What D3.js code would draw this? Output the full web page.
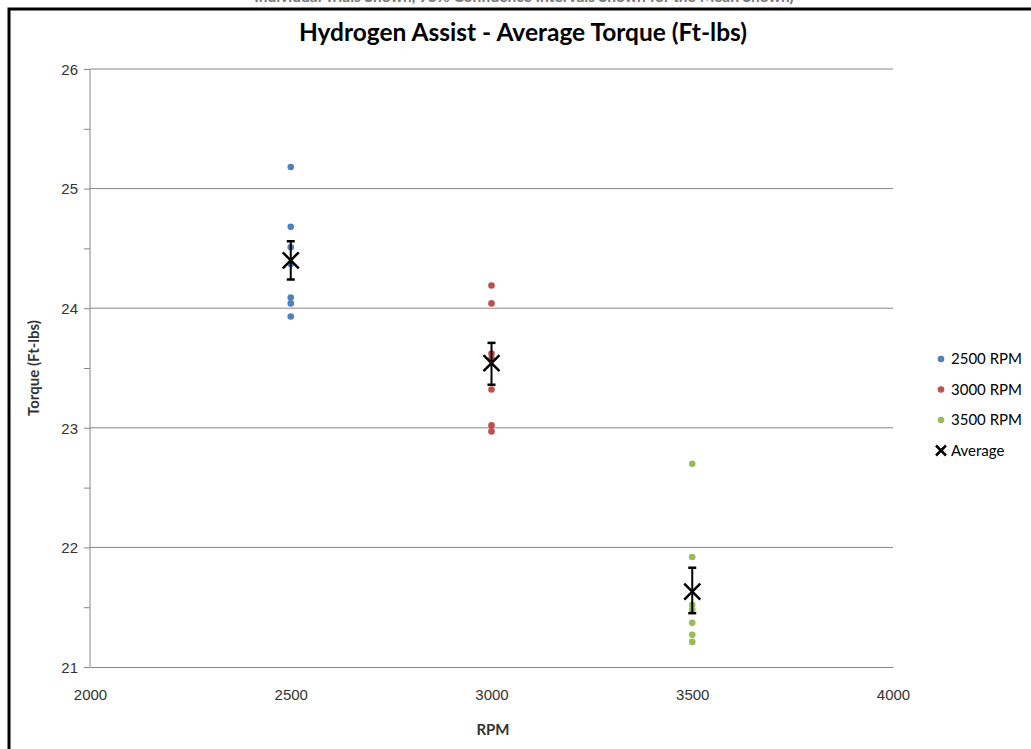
<!DOCTYPE html>
<html>
<head>
<meta charset="utf-8">
<script src="https://cdn.jsdelivr.net/npm/d3@7"></script>
<style>
  body { margin: 0; background: #fff; }
  svg { display: block; font-family: Lato, "Open Sans", sans-serif; }
</style>
</head>
<body>
<svg id="chart" width="1031" height="749"></svg>
<script>
// values
const rpmGroups = ["2500 RPM", "3000 RPM", "3500 RPM"];
const rpmValues = [2500, 3000, 3500];
const torque2500 = [25.18, 24.68, 24.51, 24.37, 24.09, 24.04, 23.93];
const torque3000 = [24.19, 24.04, 23.62, 23.58, 23.32, 23.02, 22.97];
const torque3500 = [22.70, 21.92, 21.52, 21.48, 21.37, 21.27, 21.21];
const avgTorque = [24.40, 23.54, 21.63];
const ciLow = [24.24, 23.36, 21.45];
const ciHigh = [24.56, 23.71, 21.83];
const xTicks = [2000, 2500, 3000, 3500, 4000];
const yTicks = [21, 22, 23, 24, 25, 26];
const colors = ["#4f81bd", "#c0504d", "#9bbb59"];

const svg = d3.select("#chart");
const allTorque = [torque2500, torque3000, torque3500];

const x = d3.scaleLinear().domain([2000, 4000]).range([90, 893]);
const y = d3.scaleLinear().domain([21, 26]).range([667, 69]);

// outer frame (cut off on right/bottom)
svg.append("path")
  .attr("d", "M9,749 L9,9 L1031,9")
  .attr("fill", "none")
  .attr("stroke", "#000")
  .attr("stroke-width", 3);

// heading above the frame, only its lower edge is in view
svg.append("text")
  .attr("x", 524).attr("y", 2)
  .attr("text-anchor", "middle")
  .style("font-size", "15.5px")
  .style("font-weight", "bold")
  .style("fill", "#777")
  .text("Individual Trials Shown, 95% Confidence Intervals Shown for the Mean Shown)");

// gridlines
svg.append("g")
  .selectAll("line")
  .data(yTicks.slice(1))
  .join("line")
  .attr("x1", x(2000)).attr("x2", x(4000))
  .attr("y1", d => y(d)).attr("y2", d => y(d))
  .attr("stroke", "#878787")
  .attr("stroke-width", 1);

// y axis with minor ticks
const yAxis = svg.append("g")
  .attr("transform", `translate(${x(2000)},0)`)
  .call(d3.axisLeft(y).tickValues(d3.range(21, 26.01, 0.5)).tickSize(6).tickFormat(d => Number.isInteger(d) ? d : ""));
yAxis.select(".domain").attr("stroke", "#878787").attr("d", `M0,${y(21)}V${y(26)}`);
yAxis.selectAll(".tick line").attr("stroke", "#878787");
yAxis.selectAll(".tick text")
  .attr("x", -12).attr("dy", "0.35em")
  .style("font-size", "15px").style("fill", "#333");

// x axis, labels only
const xAxis = svg.append("g")
  .attr("transform", `translate(0,${y(21)})`)
  .call(d3.axisBottom(x).tickValues(xTicks).tickSize(0).tickPadding(22).tickFormat(d3.format("d")));
xAxis.select(".domain").attr("stroke", "#878787");
xAxis.selectAll(".tick text").style("font-size", "15px").style("fill", "#333");

// titles
svg.append("text")
  .attr("x", 523).attr("y", 41)
  .attr("text-anchor", "middle")
  .style("font-size", "24.5px").style("font-weight", "bold").style("fill", "#000")
  .text("Hydrogen Assist - Average Torque (Ft-lbs)");

svg.append("text")
  .attr("x", 493).attr("y", 735)
  .attr("text-anchor", "middle")
  .style("font-size", "15px").style("font-weight", "bold").style("fill", "#333")
  .text("RPM");

svg.append("text")
  .attr("transform", `translate(39,${y(23.5)}) rotate(-90)`)
  .attr("text-anchor", "middle")
  .style("font-size", "15px").style("font-weight", "bold").style("fill", "#333")
  .text("Torque (Ft-lbs)");

// individual points
allTorque.forEach((vals, i) => {
  svg.append("g")
    .selectAll("circle")
    .data(vals)
    .join("circle")
    .attr("cx", x(rpmValues[i]))
    .attr("cy", d => y(d))
    .attr("r", 3.3)
    .attr("fill", colors[i]);
});

// averages with error bars
const avgG = svg.append("g").attr("stroke", "#000");
rpmValues.forEach((r, i) => {
  const cx = x(r), cy = y(avgTorque[i]);
  avgG.append("line")
    .attr("x1", cx).attr("x2", cx)
    .attr("y1", y(ciLow[i])).attr("y2", y(ciHigh[i]))
    .attr("stroke-width", 2);
  [ciLow[i], ciHigh[i]].forEach(v => {
    avgG.append("line")
      .attr("x1", cx - 4).attr("x2", cx + 4)
      .attr("y1", y(v)).attr("y2", y(v))
      .attr("stroke-width", 2.5);
  });
  avgG.append("path")
    .attr("d", `M${cx - 8},${cy - 8}L${cx + 8},${cy + 8}M${cx - 8},${cy + 8}L${cx + 8},${cy - 8}`)
    .attr("stroke-width", 2.5)
    .attr("fill", "none");
});

// legend
const legend = svg.append("g").attr("transform", "translate(941,359)");
rpmGroups.forEach((g, i) => {
  const row = legend.append("g").attr("transform", `translate(0,${i * 30.5})`);
  row.append("circle").attr("r", 3.3).attr("fill", colors[i]);
  row.append("text").attr("x", 10).attr("dy", "0.35em")
    .style("font-size", "15px").style("fill", "#000").text(g);
});
const avgRow = legend.append("g").attr("transform", "translate(0,91.5)");
avgRow.append("path")
  .attr("d", "M-5,-5L5,5M-5,5L5,-5")
  .attr("stroke", "#000").attr("stroke-width", 2.5);
avgRow.append("text").attr("x", 10).attr("dy", "0.35em")
  .style("font-size", "15px").style("fill", "#000").text("Average");
</script>
</body>
</html>
